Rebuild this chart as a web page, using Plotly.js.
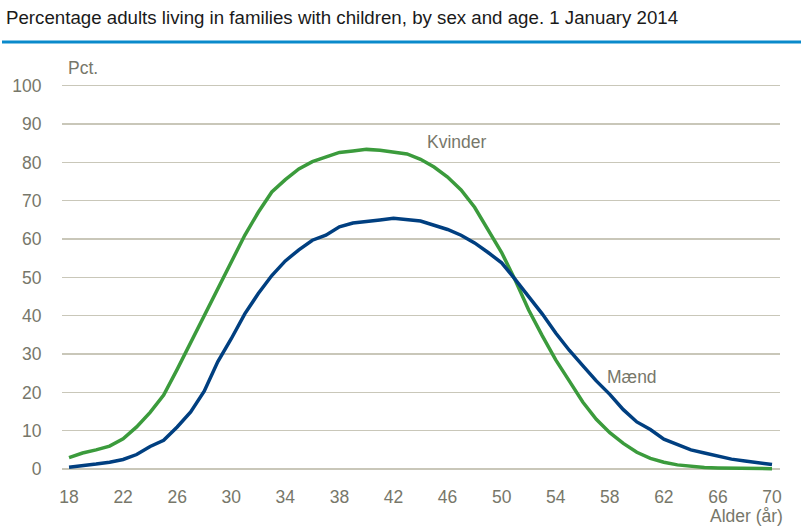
<!DOCTYPE html>
<html>
<head>
<meta charset="utf-8">
<script src="https://cdn.plot.ly/plotly-3.0.1.min.js"></script>
<style>
html,body{margin:0;padding:0;background:#fff;}
#chart{width:808px;height:529px;}
</style>
</head>
<body>
<div id="chart"></div>
<script>
const ages = [];
for (let a = 18; a <= 70; a++) ages.push(a);

const kvinder = [3.0, 4.2, 5.0, 6.0, 7.9, 11.0, 14.8, 19.3, 26.0, 33.0,
  40.0, 47.0, 54.5, 61.0, 67.0, 72.3, 75.5, 78.3, 80.2, 81.3,
  82.6, 83.0, 83.4, 83.2, 82.8, 82.2, 80.8, 78.8, 76.2, 72.8,
  68.3, 62.5, 56.5, 49.3, 41.5, 34.8, 28.5, 23.0, 17.5, 13.0,
  9.5, 6.7, 4.4, 2.8, 1.8, 1.1, 0.7, 0.4, 0.3, 0.2,
  0.1, 0.1, 0.1];

const maend = [0.5, 0.8, 1.3, 1.8, 2.5, 3.8, 5.9, 7.5, 11.0, 14.9,
  20.3, 28.0, 34.0, 40.5, 45.8, 50.5, 54.3, 57.2, 59.7, 61.0,
  63.2, 64.2, 64.5, 65.0, 65.4, 65.0, 64.7, 63.6, 62.5, 61.0,
  59.0, 56.5, 53.8, 49.5, 45.0, 40.5, 35.5, 31.0, 27.0, 23.0,
  19.5, 15.5, 12.3, 10.3, 7.8, 6.3, 5.0, 4.2, 3.3, 2.6,
  2.1, 1.7, 1.2];

const xTicks = [18, 22, 26, 30, 34, 38, 42, 46, 50, 54, 58, 62, 66, 70];
const yTicks = [0, 10, 20, 30, 40, 50, 60, 70, 80, 90, 100];

const titleText = "Percentage adults living in families with children, by sex and age. 1 January 2014";
const seriesNames = ["Kvinder", "Mænd"];

const gray = "#77776a";
const fam = "'Liberation Sans', Arial, sans-serif";

const W = 808, H = 529;
const m = {l: 62, r: 28, t: 80, b: 58};
const pw = W - m.l - m.r, ph = H - m.t - m.b;
const px2x = p => (p - m.l) / pw;
const py2y = p => (H - m.b - p) / ph;

const traces = [
  {x: ages, y: kvinder, type: 'scatter', mode: 'lines', name: seriesNames[0],
   line: {color: '#3b9b3c', width: 3.5}, hoverinfo: 'x+y'},
  {x: ages, y: maend, type: 'scatter', mode: 'lines', name: seriesNames[1],
   line: {color: '#003f80', width: 3.5}, hoverinfo: 'x+y'}
];

const layout = {
  width: W, height: H,
  margin: m,
  paper_bgcolor: '#fff', plot_bgcolor: '#fff',
  showlegend: false,
  font: {family: fam, color: gray, size: 17},
  title: {text: titleText, x: 6 / W, xanchor: 'left', xref: 'container',
          y: 1 - 17 / H, yanchor: 'middle', yref: 'container',
          font: {family: fam, size: 18.7, color: '#1a1a1a'}},
  xaxis: {range: [17.48, 70.59], tickvals: xTicks, ticktext: xTicks.map(String),
          showgrid: false, zeroline: false, showline: false,
          ticks: 'outside', ticklen: 10, tickcolor: 'rgba(0,0,0,0)',
          tickfont: {family: fam, size: 17.5, color: gray}, fixedrange: true},
  yaxis: {range: [-0.5, 101.5], tickvals: yTicks, ticktext: yTicks.map(String),
          showgrid: true, gridcolor: '#c9c7b9', gridwidth: 1.3, zeroline: false, showline: false,
          ticks: 'outside', ticklen: 16, tickcolor: 'rgba(0,0,0,0)',
          tickfont: {family: fam, size: 17.5, color: gray}, fixedrange: true},
  shapes: [
    {type: 'line', xref: 'paper', yref: 'paper', x0: px2x(2), x1: px2x(801), y0: py2y(42), y1: py2y(42),
     line: {color: '#0a8acb', width: 3}}
  ],
  annotations: [
    {text: 'Pct.', xref: 'paper', yref: 'paper', x: px2x(66), y: py2y(68), xanchor: 'left', yanchor: 'middle',
     showarrow: false, font: {family: fam, size: 17.5, color: gray}},
    {text: seriesNames[0], xref: 'x', yref: 'y', x: 46.7, y: 85.3, xanchor: 'center', yanchor: 'middle',
     showarrow: false, font: {family: fam, size: 17.5, color: gray}},
    {text: seriesNames[1], xref: 'x', yref: 'y', x: 59.64, y: 23.9, xanchor: 'center', yanchor: 'middle',
     showarrow: false, font: {family: fam, size: 17.5, color: gray}},
    {text: 'Alder (år)', xref: 'paper', yref: 'paper', x: px2x(785), y: py2y(516), xanchor: 'right', yanchor: 'middle',
     showarrow: false, font: {family: fam, size: 17.5, color: gray}}
  ]
};

Plotly.newPlot('chart', traces, layout, {displayModeBar: false, staticPlot: true});
</script>
</body>
</html>
